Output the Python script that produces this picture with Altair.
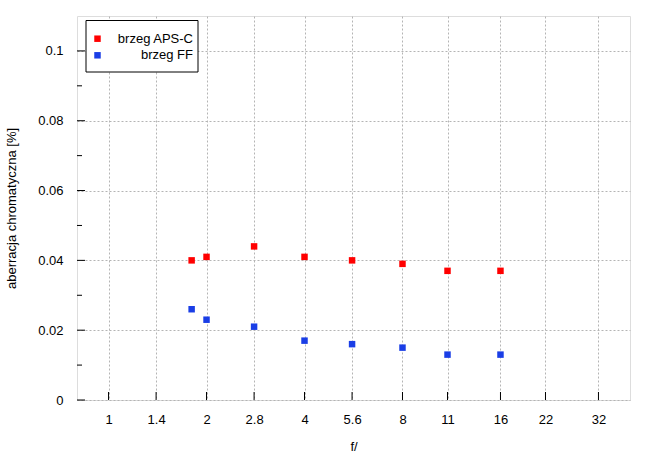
import altair as alt
import pandas as pd

# ---- data ----
apertures = [1.8, 2, 2.8, 4, 5.6, 8, 11, 16]
aps_c = [0.040, 0.041, 0.044, 0.041, 0.040, 0.039, 0.037, 0.037]
ff = [0.026, 0.023, 0.021, 0.017, 0.016, 0.015, 0.013, 0.013]
series_names = ["brzeg APS-C", "brzeg FF"]
series_colors = ["#ff0000", "#1a3ee6"]
x_ticks = [1, 1.4, 2, 2.8, 4, 5.6, 8, 11, 16, 22, 32]
y_major = [0, 0.02, 0.04, 0.06, 0.08, 0.1]
y_minor = [0.01, 0.03, 0.05, 0.07, 0.09]

rows = []
for name, vals in zip(series_names, [aps_c, ff]):
    for f, v in zip(apertures, vals):
        rows.append({"f": f, "val": v, "series": name})
df = pd.DataFrame(rows)

W, H = 553, 384
FONT = "Liberation Sans"
FS = 13

xscale = alt.Scale(type="log", domain=[0.8, 40], nice=False)
yscale = alt.Scale(domain=[0, 0.11], nice=False, zero=False)
cscale = alt.Scale(domain=series_names, range=series_colors)

points = alt.Chart(df).mark_point(shape="square", filled=True, opacity=1, size=42).encode(
    x=alt.X("f:Q", scale=xscale, title="f/",
            axis=alt.Axis(values=x_ticks, labelExpr="datum.value", tickSize=0, domain=False,
                          grid=True, gridColor="#b4b4b4", gridDash=[2, 2], gridWidth=1,
                          labelPadding=13, titlePadding=14, labelFontSize=FS,
                          titleFontSize=FS, labelFont=FONT, titleFont=FONT,
                          titleFontWeight="normal", labelColor="#000", titleColor="#000")),
    y=alt.Y("val:Q", scale=yscale, title="aberracja chromatyczna [%]",
            axis=alt.Axis(values=y_major, format="~g", tickSize=0, domain=False,
                          grid=True, gridColor="#b4b4b4", gridDash=[2, 2], gridWidth=1,
                          labelPadding=14, titlePadding=19, labelFontSize=FS,
                          titleFontSize=FS, labelFont=FONT, titleFont=FONT,
                          titleFontWeight="normal", labelColor="#000", titleColor="#000")),
    color=alt.Color("series:N", scale=cscale, legend=None),
)

ymaj_df = pd.DataFrame({"val": y_major})
ymin_df = pd.DataFrame({"val": y_minor})
xt_df = pd.DataFrame({"f": x_ticks})

ymaj = alt.Chart(ymaj_df).mark_rule(color="black", strokeWidth=1).encode(
    y=alt.Y("val:Q", scale=yscale), x=alt.value(0), x2=alt.value(8))
ymin = alt.Chart(ymin_df).mark_rule(color="black", strokeWidth=1).encode(
    y=alt.Y("val:Q", scale=yscale), x=alt.value(0), x2=alt.value(5))
xt = alt.Chart(xt_df).mark_rule(color="black", strokeWidth=1).encode(
    x=alt.X("f:Q", scale=xscale), y=alt.value(H), y2=alt.value(H - 8))

leg_df = pd.DataFrame({"series": series_names, "color": series_colors})
box = alt.Chart(leg_df).transform_filter(alt.datum.series == series_names[0]).mark_rect(
    fill="white", stroke="black", strokeWidth=1).encode(
    x=alt.value(9), x2=alt.value(121), y=alt.value(4.5), y2=alt.value(56))

legend_layers = [box]
for i, ypos in enumerate([22.7, 39.3]):
    sub = alt.Chart(leg_df).transform_filter(alt.datum.series == series_names[i])
    legend_layers.append(sub.mark_square(size=42, opacity=1).encode(
        x=alt.value(20.5), y=alt.value(ypos),
        color=alt.Color("color:N", scale=None)))
    legend_layers.append(sub.mark_text(align="right", baseline="middle", fontSize=FS,
                                       font=FONT, color="black").encode(
        x=alt.value(116), y=alt.value(ypos), text="series:N"))

chart = alt.layer(points, ymaj, ymin, xt, *legend_layers).properties(
    width=W, height=H,
    autosize=alt.AutoSizeParams(type="none"),
    padding={"left": 77, "top": 16, "right": 25, "bottom": 55},
).configure_view(stroke="black", strokeWidth=1).configure(background="white")

chart.save("out.html", embed_options={"renderer": "svg", "actions": False})
